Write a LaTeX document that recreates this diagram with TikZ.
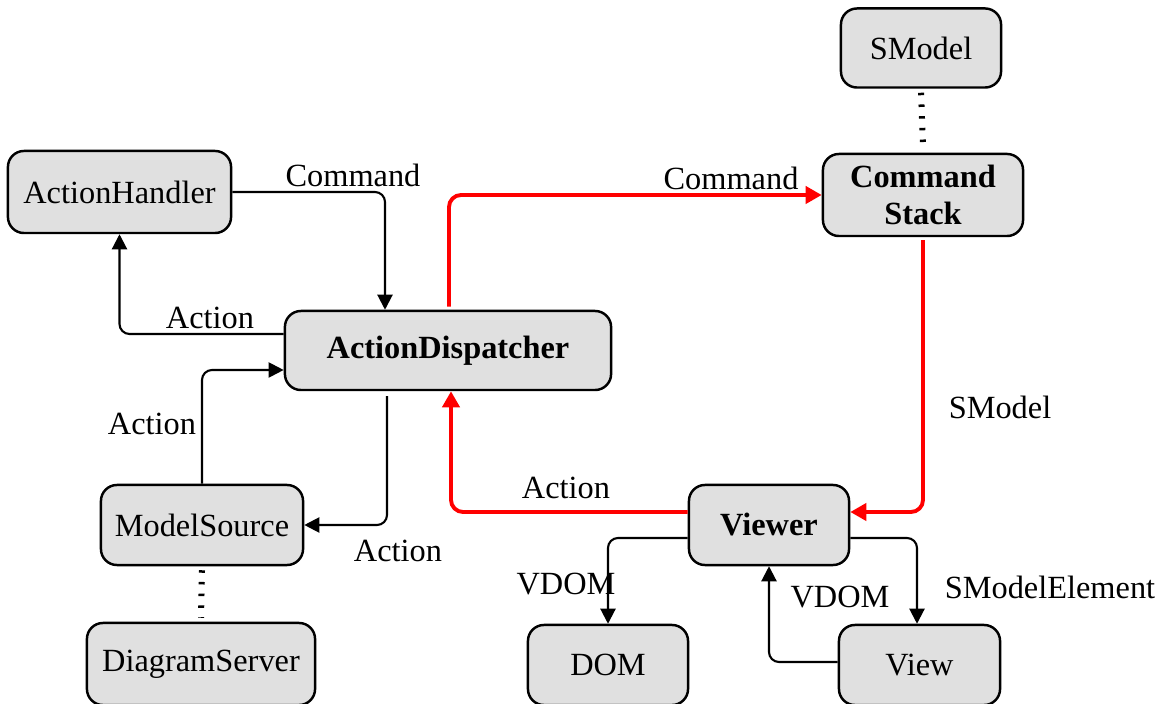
\documentclass[tikz,border=0pt]{standalone}
\usepackage{fontspec}
\setmainfont{Liberation Serif}
\usetikzlibrary{arrows.meta,calc}
\definecolor{boxfill}{HTML}{E0E0E0}
\tikzset{
  box/.style={draw=black, fill=boxfill, rounded corners=0.16cm, line width=0.7pt,
    inner sep=0pt, align=center, font=\fontsize{9.2}{10.5}\selectfont},
  lbl/.style={inner sep=0pt, font=\fontsize{9.2}{10.5}\selectfont},
  arr/.style={draw=black, line width=0.6pt, rounded corners=0.1cm,
    -{Triangle[length=0.15cm,width=0.15cm]}},
  hot/.style={draw=red, line width=1.1pt, rounded corners=0.12cm,
    -{Triangle[length=0.16cm,width=0.17cm]}},
  link/.style={draw=black, line width=0.06cm, dash pattern=on 0.025cm off 0.092cm}
}
\begin{document}
\begin{tikzpicture}[x=0.01cm,y=-0.01cm]
\useasboundingbox (0,0) rectangle (1167,704);

% components
\node[box, minimum width=1.60cm, minimum height=0.79cm] (smodel) at (921,48) {SModel};
\node[box, minimum width=2.00cm, minimum height=0.82cm] (cstack) at (923,195) {\bfseries Command\\[0pt]\bfseries Stack};
\node[box, minimum width=2.23cm, minimum height=0.82cm] (ahandler) at (119.5,192) {ActionHandler};
\node[box, minimum width=3.26cm, minimum height=0.79cm] (adisp) at (448,350.5) {\bfseries ActionDispatcher};
\node[box, minimum width=2.02cm, minimum height=0.80cm] (msource) at (202,525) {ModelSource};
\node[box, minimum width=2.28cm, minimum height=0.82cm] (dserver) at (201,664) {DiagramServer};
\node[box, minimum width=1.60cm, minimum height=0.80cm] (viewer) at (769,525) {\bfseries Viewer};
\node[box, minimum width=1.60cm, minimum height=0.80cm] (dom) at (608,665) {DOM};
\node[box, minimum width=1.61cm, minimum height=0.80cm] (view) at (919.5,665) {View};

% associations
\draw[link] ($(smodel.south)+(0,4)$) -- ($(cstack.north)+(0,-8)$);
\draw[link] ($(msource.south)+(0,4)$) -- ($(dserver.north)+(0,-4)$);

% action / command flow
\draw[arr] (ahandler.east) -| ($(adisp.north)+(-63,0)$);
\draw[arr] ($(adisp.west)+(0,-16.5)$) -| (ahandler.south);
\draw[arr] (msource.north) |- ($(adisp.west)+(0,19.5)$);
\draw[arr] ($(adisp.south)+(-61,5)$) |- (msource.east);

% main cycle
\draw[hot] ($(adisp.north)+(1,-3)$) |- (cstack.west);
\draw[hot] ($(cstack.south)+(0,3)$) |- ($(viewer.east)+(0,-13)$);
\draw[hot] ($(viewer.west)+(0,-13)$) -| ($(adisp.south)+(3,0)$);

% rendering
\draw[arr] ($(viewer.west)+(0,13)$) -| (dom.north);
\draw[arr] ($(viewer.east)+(0,13)$) -| ($(view.north)+(-2.5,0)$);
\draw[arr] ($(view.west)+(0,-3)$) -| (viewer.south);

% labels
\node[lbl] (l1) at (353,175) {Command};
\node[lbl] (l2) at (210,318) {Action};
\node[lbl] (l3) at (152,424) {Action};
\node[lbl] (l4) at (398,551) {Action};
\node[lbl] (l5) at (731,178) {Command};
\node[lbl] (l6) at (1000,407) {SModel};
\node[lbl] (l7) at (566,488) {Action};
\node[lbl] (l8) at (566,584) {VDOM};
\node[lbl] (l9) at (1050,587) {SModelElement};
\node[lbl] (l10) at (840,597) {VDOM};
\end{tikzpicture}
\end{document}
